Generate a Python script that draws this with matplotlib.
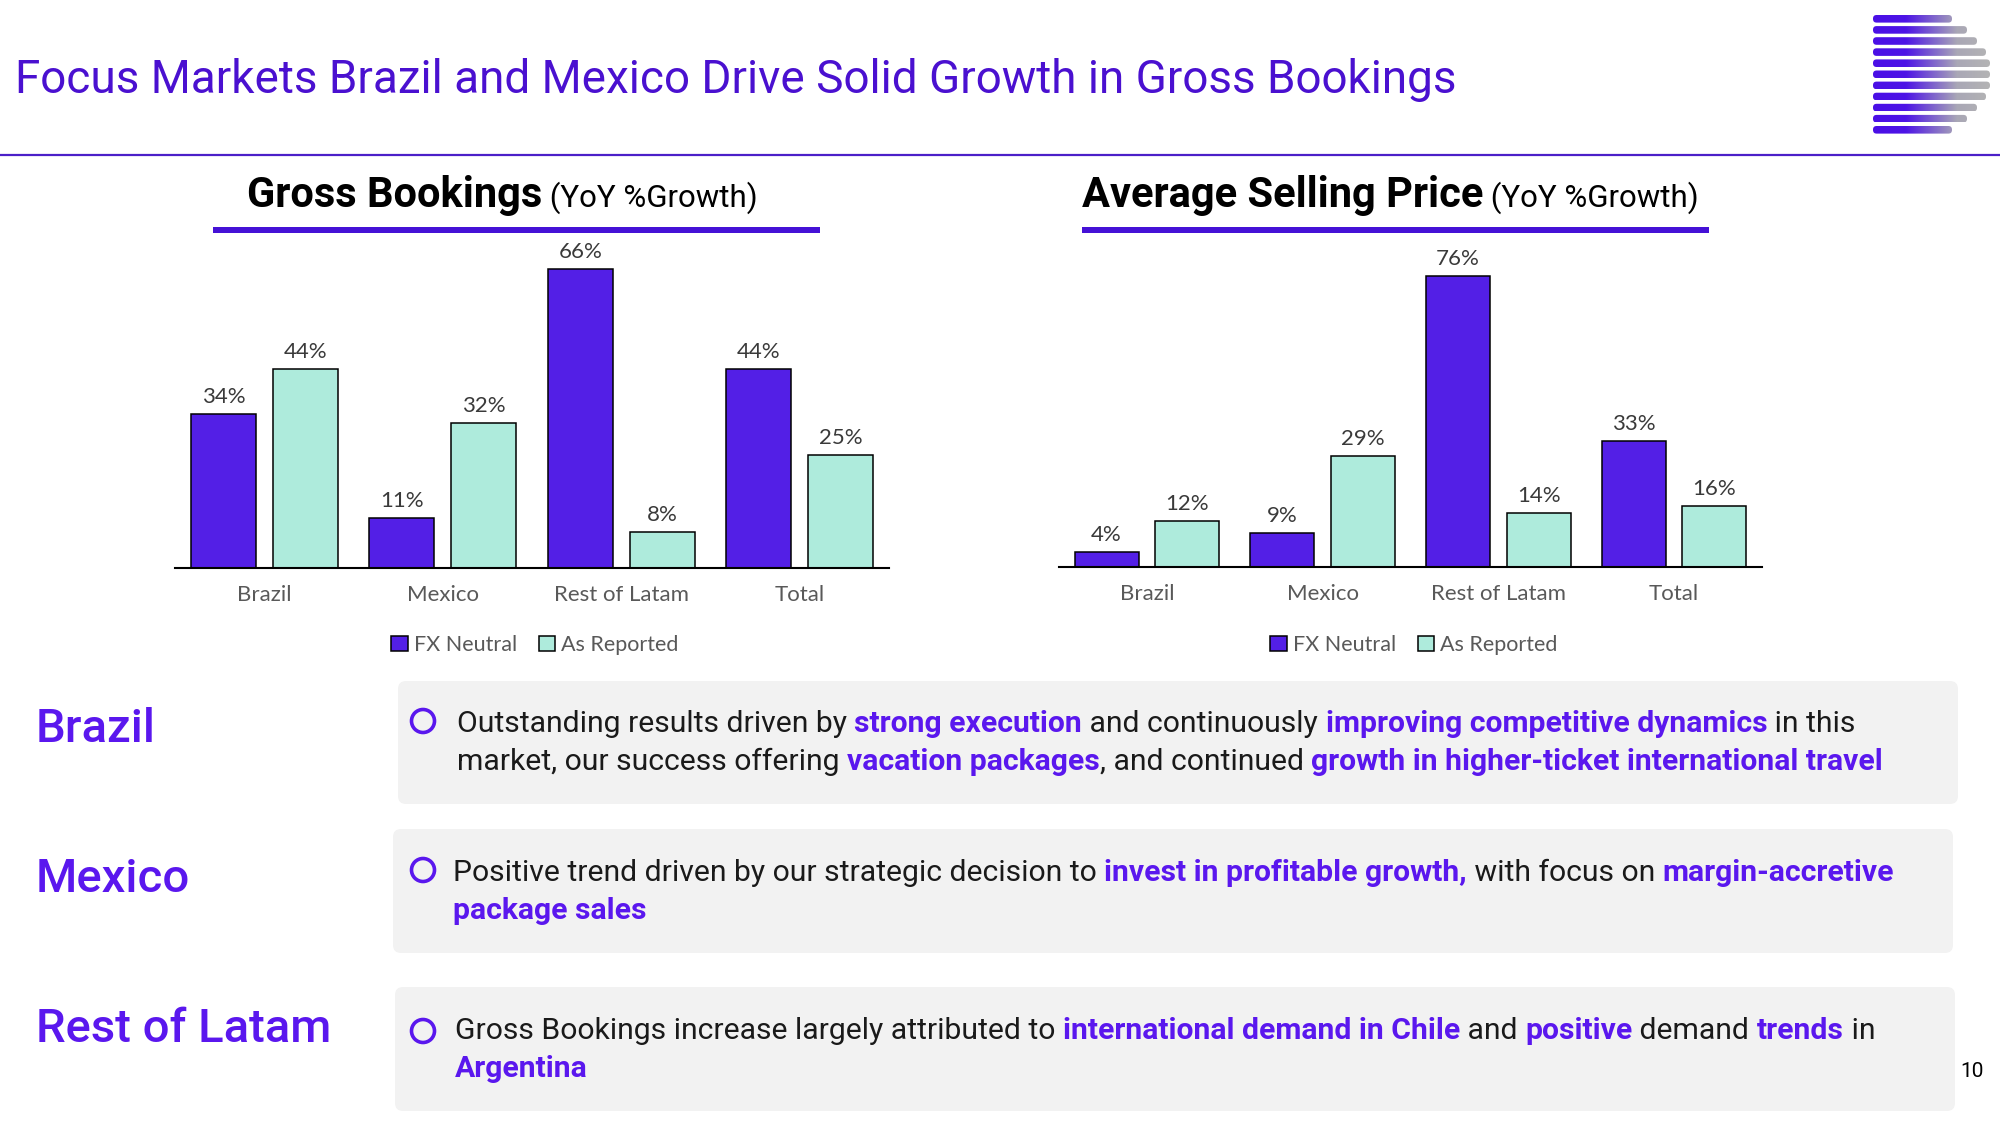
import matplotlib
matplotlib.use("Agg")
import matplotlib.pyplot as plt
import numpy as np
from matplotlib.patches import FancyBboxPatch, Circle, Rectangle
from matplotlib.colors import LinearSegmentedColormap

W, H = 2000, 1125

# ---------------- data ----------------
categories = ["Brazil", "Mexico", "Rest of Latam", "Total"]
series_names = ["FX Neutral", "As Reported"]
gb_fx_neutral = [34, 11, 66, 44]
gb_as_reported = [44, 32, 8, 25]
asp_fx_neutral = [4, 9, 76, 33]
asp_as_reported = [12, 29, 14, 16]

page_title = "Focus Markets Brazil and Mexico Drive Solid Growth in Gross Bookings"
chart_titles = [("Gross Bookings", " (YoY %Growth)"), ("Average Selling Price", " (YoY %Growth)")]
market_labels = ["Brazil", "Mexico", "Rest of Latam"]
bullet_lines = [
    [
        [("Outstanding results driven by ", False), ("strong execution", True),
         (" and continuously ", False), ("improving competitive dynamics", True), (" in this", False)],
        [("market, our success offering ", False), ("vacation packages", True),
         (", and continued ", False), ("growth in higher-ticket international travel", True)],
    ],
    [
        [("Positive trend driven by our strategic decision to ", False), ("invest in profitable growth,", True),
         (" with focus on ", False), ("margin-accretive", True)],
        [("package sales", True)],
    ],
    [
        [("Gross Bookings increase largely attributed to ", False), ("international demand in Chile", True),
         (" and ", False), ("positive", True), (" demand ", False), ("trends", True), (" in", False)],
        [("Argentina", True)],
    ],
]
page_number = "10"

# ---------------- style ----------------
TITLE_C = "#4A10D0"
LINE_C = "#4B1FC8"
HL_C = "#5A17EE"
TXT_C = "#1A1A1A"
FX_C = "#531FE6"
REP_C = "#AEEBDC"
BOX_C = "#F2F2F2"
SLIDE_FONT = "Roboto"
CHART_FONT = "Lato"

fig = plt.figure(figsize=(20, 11.25), dpi=100)
bg = fig.add_axes([0, 0, 1, 1])
bg.set_xlim(0, W)
bg.set_ylim(H, 0)
bg.axis("off")
bg.set_zorder(0)
renderer = fig.canvas.get_renderer()


def text_w(s, **kw):
    t1 = bg.text(0, 0, "|" + s + "|", **kw)
    t2 = bg.text(0, 0, "||", **kw)
    w = t1.get_window_extent(renderer).width - t2.get_window_extent(renderer).width
    t1.remove()
    t2.remove()
    return w


def rich(x, y, parts):
    for s, kw in parts:
        bg.text(x, y, s, va="baseline", ha="left", **kw)
        x += text_w(s, **kw)


# header
bg.text(15, 93, page_title, fontsize=33, family=SLIDE_FONT, color=TITLE_C, va="baseline")
bg.plot([0, W], [155, 155], color=LINE_C, lw=1.6)

# logo
cmap = LinearSegmentedColormap.from_list(
    "logo", [(0, "#4A0FE6"), (0.28, "#4D14E6"), (0.72, "#A9A7B6"), (1, "#B4B4B4")])
logo_right = [1952, 1967, 1977, 1986, 1990, 1990, 1990, 1986, 1977, 1967, 1952]
grad = np.linspace(0, 1, 256).reshape(1, -1)
for i, r in enumerate(logo_right):
    y0 = 15 + i * 11.1
    h = 7.6
    patch = FancyBboxPatch((1873, y0), r - 1873, h, boxstyle="round,pad=0,rounding_size=3.6",
                           fc="none", ec="none", transform=bg.transData)
    bg.add_patch(patch)
    im = bg.imshow(grad, extent=(1873, 1990, y0 + h, y0), cmap=cmap, aspect="auto",
                   interpolation="bilinear")
    im.set_clip_path(patch)
bg.set_xlim(0, W)
bg.set_ylim(H, 0)

# chart titles and underlines
for (bold, reg), x0, ul in zip(chart_titles, [247, 1082], [(213, 820), (1082, 1709)]):
    rich(x0, 207, [(bold, dict(fontsize=30, family=SLIDE_FONT, fontweight="bold", color="black")),
                   (reg, dict(fontsize=22.5, family=SLIDE_FONT, color="black"))])
    bg.add_patch(Rectangle((ul[0], 227), ul[1] - ul[0], 6, fc="#4511D6", ec="none"))


# charts
def chart(left, right, base, top, ymax, fx, rep, legend_cx):
    ax = fig.add_axes([left / W, 1 - base / H, (right - left) / W, (base - top) / H])
    ax.set_facecolor("none")
    x = np.arange(len(categories))
    b1 = ax.bar(x - 0.229, fx, width=0.364, color=FX_C, edgecolor="black", linewidth=1.1,
                label=series_names[0])
    b2 = ax.bar(x + 0.229, rep, width=0.364, color=REP_C, edgecolor="black", linewidth=1.1,
                label=series_names[1])
    for b, vals in ((b1, fx), (b2, rep)):
        ax.bar_label(b, labels=[f"{v}%" for v in vals], padding=5, fontsize=16,
                     family=CHART_FONT, color="#3A3A3A")
    ax.set_xlim(-0.5, 3.5)
    ax.set_ylim(0, ymax)
    for s in ("top", "right", "left"):
        ax.spines[s].set_visible(False)
    ax.spines["bottom"].set_linewidth(1.5)
    ax.spines["bottom"].set_color("black")
    ax.set_yticks([])
    ax.set_xticks(x, categories)
    ax.tick_params(axis="x", length=0, pad=12, labelsize=16, labelcolor="#595959")
    for lab in ax.get_xticklabels():
        lab.set_family(CHART_FONT)
    fig.legend(handles=[b1, b2], loc="center", bbox_to_anchor=(legend_cx / W, 1 - 645 / H),
               ncol=2, frameon=False, prop={"family": CHART_FONT, "size": 15.5},
               labelcolor="#595959", handlelength=0.75, handleheight=0.75,
               handletextpad=0.3, columnspacing=1.0)
    return ax


chart(175, 889, 568, 240, (568 - 240) / 4.53, gb_fx_neutral, gb_as_reported, 535)
chart(1059, 1762, 567, 240, (567 - 240) / 3.83, asp_fx_neutral, asp_as_reported, 1414)

# lower section
boxes = [(398, 681, 1560, 123), (393, 829, 1560, 124), (395, 987, 1560, 124)]
label_base = [742, 892, 1042]
bullet_y = [721, 870, 1031]
line_base = [(732, 770), (881, 919), (1039, 1077)]
text_x = [457, 453, 455]
for i in range(3):
    bx, by, bw, bh = boxes[i]
    bg.add_patch(FancyBboxPatch((bx, by), bw, bh, boxstyle="round,pad=0,rounding_size=8",
                                fc=BOX_C, ec="none"))
    bg.text(36, label_base[i], market_labels[i], fontsize=34, family=SLIDE_FONT,
            fontweight="medium", color=HL_C, va="baseline")
    bg.add_patch(Circle((423, bullet_y[i]), 11.5, fill=False, ec=HL_C, lw=2.6))
    for j, line in enumerate(bullet_lines[i]):
        parts = []
        for s, b in line:
            parts.append((s, dict(fontsize=21.7, family=SLIDE_FONT,
                                  fontweight="bold" if b else "normal",
                                  color=HL_C if b else TXT_C)))
        rich(text_x[i], line_base[i][j], parts)

bg.text(1960, 1077, page_number, fontsize=15, family=SLIDE_FONT, color="black", va="baseline")

fig.savefig("out.png", dpi=100)
